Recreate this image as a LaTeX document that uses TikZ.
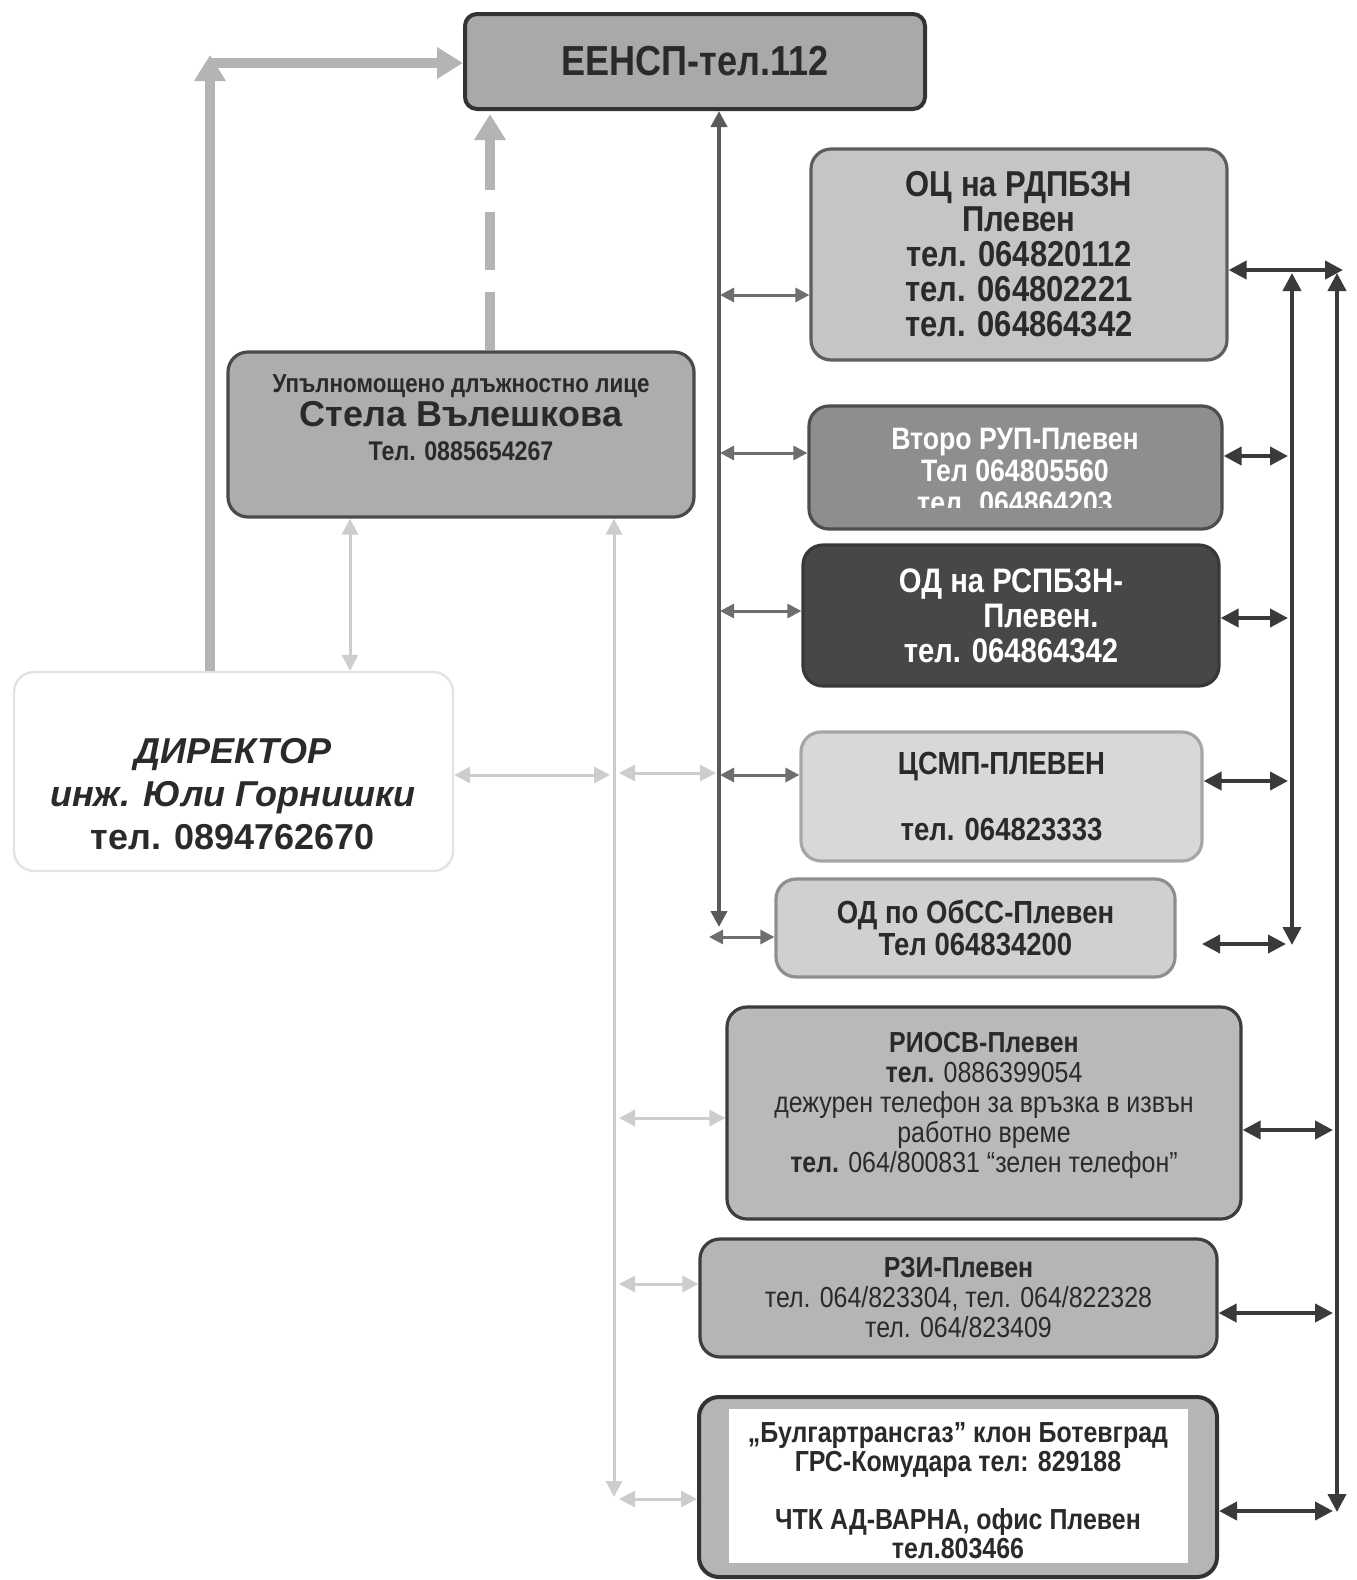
\documentclass[tikz,border=0pt]{standalone}
\usepackage{fontspec}
\setmainfont{Liberation Sans}
\newfontfamily\nar{Liberation Sans}[FakeStretch=0.86]
\usetikzlibrary{arrows.meta}
\definecolor{txt}{HTML}{2A2A2A}
\definecolor{eenF}{HTML}{A9A9A9}\definecolor{eenD}{HTML}{333333}
\definecolor{ocF}{HTML}{C5C5C5}\definecolor{ocD}{HTML}{5E5E5E}
\definecolor{vtF}{HTML}{8E8E8E}\definecolor{vtD}{HTML}{4E4E4E}
\definecolor{odF}{HTML}{474747}\definecolor{odD}{HTML}{383838}
\definecolor{csF}{HTML}{D8D8D8}\definecolor{csD}{HTML}{A6A6A6}
\definecolor{obF}{HTML}{D0D0D0}\definecolor{obD}{HTML}{8E8E8E}
\definecolor{riF}{HTML}{B9B9B9}\definecolor{riD}{HTML}{3C3C3C}
\definecolor{rzF}{HTML}{B5B5B5}\definecolor{rzD}{HTML}{3E3E3E}
\definecolor{bgF}{HTML}{B5B5B5}\definecolor{bgD}{HTML}{333333}
\definecolor{upF}{HTML}{ADADAD}\definecolor{upD}{HTML}{4A4A4A}
\definecolor{dirD}{HTML}{E3E3E3}
\definecolor{thickC}{HTML}{B4B4B4}
\definecolor{busC}{HTML}{5A5A5A}
\definecolor{brC}{HTML}{6E6E6E}
\definecolor{rC}{HTML}{3A3A3A}
\definecolor{lightC}{HTML}{CDCDCD}
\begin{document}
\begin{tikzpicture}[x=0.5pt,y=-0.5pt,
  box/.style={rounded corners=10pt, line width=1.6pt, inner sep=0pt, align=center, text=txt},
  txtnode/.style={inner sep=0pt, align=center, text=txt},
  thickarrow/.style={draw=thickC, line width=5pt, -{Triangle[width=15pt,length=13pt]}},
  darkbus/.style={draw=busC, line width=2pt, {Triangle[width=8pt,length=8pt]}-{Triangle[width=8pt,length=8pt]}},
  branch/.style={draw=brC, line width=1.5pt, {Triangle[width=7pt,length=7pt]}-{Triangle[width=7pt,length=7pt]}},
  rdark/.style={draw=rC, line width=2pt, {Triangle[width=9pt,length=9pt]}-{Triangle[width=9pt,length=9pt]}},
  lightlink/.style={draw=lightC, line width=1.5pt, {Triangle[width=8pt,length=8pt]}-{Triangle[width=8pt,length=8pt]}}
]
\useasboundingbox (0,0) rectangle (1356,1580);
\fill[white] (0,0) rectangle (1356,1580);

% ---------- boxes ----------
\node[box, draw=eenD, fill=eenF, line width=2pt, rounded corners=6pt, minimum width=230pt, minimum height=47.5pt,
      font={\nar\bfseries\fontsize{21}{22}\selectfont}] (een) at (695,61.5) {ЕЕНСП-тел.112};

\node[box, draw=ocD, fill=ocF, minimum width=208pt, minimum height=105.5pt,
      font={\nar\bfseries\fontsize{18}{17.5}\selectfont}] (oc) at (1019,254.5)
      {ОЦ на РДПБЗН\\Плевен\\тел. 064820112\\тел. 064802221\\тел. 064864342};

\node[box, draw=vtD, fill=vtF, minimum width=206.5pt, minimum height=61.5pt] (vt) at (1015.5,467.5) {};
\begin{scope}
\clip (809,400) rectangle (1222,507);
\node[txtnode, text=white, font={\nar\bfseries\fontsize{15.5}{16}\selectfont}] (vt-t) at (1015,471.5)
      {Второ РУП-Плевен\\Тел 064805560\\тел. 064864203};
\end{scope}

\node[box, draw=odD, fill=odF, text=white, minimum width=208pt, minimum height=70.5pt,
      font={\nar\bfseries\fontsize{17}{17.5}\selectfont}] (od) at (1011,615.5)
      {ОД на РСПБЗН-\\\hspace*{30pt}Плевен.\\тел. 064864342};

\node[box, draw=csD, fill=csF, minimum width=200.5pt, minimum height=64.5pt,
      font={\nar\bfseries\fontsize{16}{16.5}\selectfont}] (cs) at (1001.5,796.5)
      {ЦСМП-ПЛЕВЕН\\[16.5pt]тел. 064823333};

\node[box, draw=obD, fill=obF, minimum width=199.5pt, minimum height=49pt,
      font={\nar\bfseries\fontsize{16}{16}\selectfont}] (ob) at (975.5,928)
      {ОД по ОбСС-Плевен\\Тел 064834200};

\node[box, draw=riD, fill=riF, minimum width=257pt, minimum height=106pt] (ri) at (984,1113) {};
\node[txtnode, font={\nar\fontsize{14.5}{15}\selectfont}] (ri-t) at (984,1105)
      {\textbf{РИОСВ-Плевен}\\\textbf{тел.} 0886399054\\дежурен телефон за връзка в извън\\работно време\\\textbf{тел.} 064/800831 “зелен телефон”};

\node[box, draw=rzD, fill=rzF, minimum width=258.5pt, minimum height=59pt,
      font={\nar\fontsize{14.5}{15}\selectfont}] (rz) at (958.5,1298)
      {\textbf{РЗИ-Плевен}\\тел. 064/823304, тел. 064/822328\\тел. 064/823409};

\node[box, draw=bgD, fill=bgF, line width=2pt, minimum width=259pt, minimum height=90pt] (bg) at (958,1487) {};
\node[fill=white, inner sep=0pt, minimum width=229.5pt, minimum height=77pt] (bg-in) at (958.5,1486) {};
\node[txtnode, font={\nar\bfseries\fontsize{14.5}{14.5}\selectfont}] (bg-t) at (958,1491)
      {„Булгартрансгаз” клон Ботевград\\ГРС-Комудара тел: 829188\\[14.5pt]ЧТК АД-ВАРНА, офис Плевен\\тел.803466};

\node[box, draw=upD, fill=upF, minimum width=233pt, minimum height=82.5pt] (upl) at (461,434.5) {};
\node[txtnode, font={\nar\bfseries\fontsize{13}{17}\selectfont}] (upl-t) at (461,418)
      {Упълномощено длъжностно лице\\
       {\normalfont\bfseries\fontsize{18}{17}\selectfont Стела Вълешкова}\\
       {\fontsize{13.5}{17}\selectfont Тел. 0885654267}};

\node[box, draw=dirD, fill=white, line width=1.2pt, minimum width=219.5pt, minimum height=99.5pt] (dir) at (233.5,771.5) {};
\node[txtnode, font={\bfseries\fontsize{18}{21.5}\selectfont}] (dir-t) at (233,794)
      {\textit{ДИРЕКТОР}\\\textit{инж. Юли Горнишки}\\тел. 0894762670};

% ---------- thick light-grey arrows ----------
\coordinate (tl) at (210,55);
\coordinate (tlh) at (210,63);
\draw[thickarrow] (dir.north -| tl) -- (tl);
\draw[thickarrow] (tlh) -- (tlh -| een.west);
\coordinate (dsh) at (490,114);
\draw[thickarrow, dash pattern=on 29pt off 11pt] (upl.north -| dsh) -- (dsh);

% ---------- dark vertical bus (left) ----------
\coordinate (bus) at (719,0);
\coordinate (busB) at (719,927);
\draw[darkbus] (busB) -- (een.south -| bus);
\coordinate (b1) at (720,295);
\coordinate (b2) at (720,453);
\coordinate (b3) at (720,611);
\coordinate (b4) at (720,775);
\coordinate (b5) at (709,937);
\draw[branch] (b1) -- (b1 -| oc.west);
\draw[branch] (b2) -- (b2 -| vt.west);
\draw[branch] (b3) -- (b3 -| od.west);
\draw[branch] (b4) -- (b4 -| cs.west);
\draw[branch] (b5) -- (b5 -| ob.west);

% ---------- right buses ----------
\coordinate (rt) at (1343,270);
\draw[rdark] (oc.east |- rt) -- (rt);
\coordinate (ibT) at (1292,273);
\coordinate (ibB) at (1292,945);
\coordinate (obT) at (1337,273);
\coordinate (obB) at (1337,1512);
\draw[rdark] (ibB) -- (ibT);
\draw[rdark] (obB) -- (obT);
\coordinate (r1) at (1288,456);
\coordinate (r2) at (1288,618);
\coordinate (r3) at (1288,781);
\coordinate (r4a) at (1202,944);
\coordinate (r4) at (1286,944);
\coordinate (r5) at (1333,1130);
\coordinate (r6) at (1333,1313);
\coordinate (r7) at (1333,1511);
\draw[rdark] (r1 -| vt.east) -- (r1);
\draw[rdark] (r2 -| od.east) -- (r2);
\draw[rdark] (r3 -| cs.east) -- (r3);
\draw[rdark] (r4a) -- (r4);
\draw[rdark] (r5 -| ri.east) -- (r5);
\draw[rdark] (r6 -| rz.east) -- (r6);
\draw[rdark] (r7 -| bg.east) -- (r7);

% ---------- light connectors ----------
\coordinate (lv) at (350,0);
\draw[lightlink] (upl.south -| lv) -- (dir.north -| lv);
\coordinate (lb) at (614,0);
\coordinate (lbB) at (614,1497);
\draw[lightlink] (lbB) -- (upl.south -| lb);
\coordinate (l1) at (610,775);
\draw[lightlink] (dir.east |- l1) -- (l1);
\coordinate (l2a) at (619,773);
\coordinate (l2b) at (716,773);
\draw[lightlink] (l2a) -- (l2b);
\coordinate (l3) at (619,1118);
\coordinate (l4) at (619,1284);
\coordinate (l5) at (619,1499);
\draw[lightlink] (l3) -- (l3 -| ri.west);
\draw[lightlink] (l4) -- (l4 -| rz.west);
\draw[lightlink] (l5) -- (l5 -| bg.west);
\end{tikzpicture}
\end{document}
